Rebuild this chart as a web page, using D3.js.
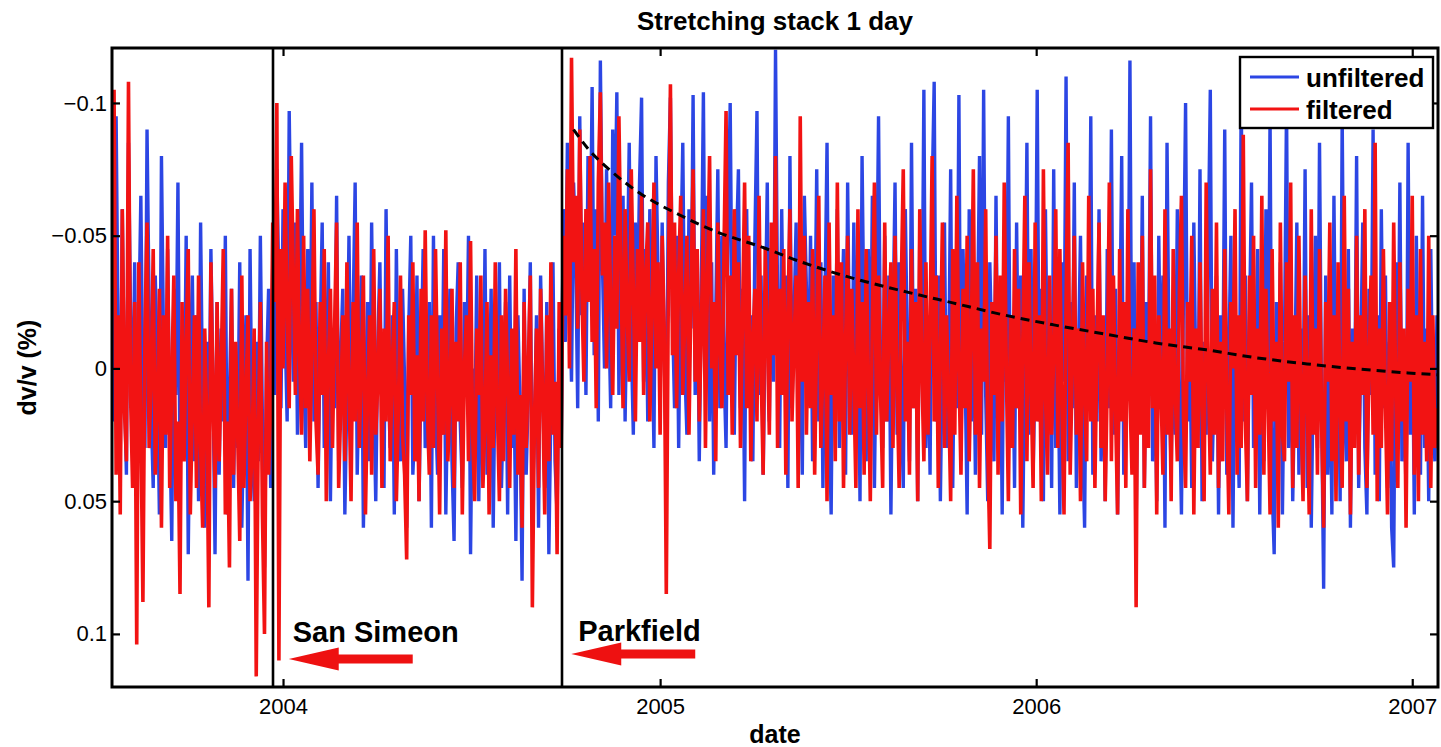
<!DOCTYPE html>
<html>
<head>
<meta charset="utf-8">
<script src="https://cdn.jsdelivr.net/npm/d3@7/dist/d3.min.js"></script>
<style>
    body { margin: 0; background: #fff; }
    svg { display: block; font-family: "Liberation Sans", Arial, Helvetica, sans-serif; }
</style>
</head>
<body>
<svg id="grafic" width="1441" height="747"></svg>
<script>
// ------------------DATA------------------
// dv/v in thousandths of a percent, one value every 2 days from 2003-07-19
var unfilteredBeforeSanSimeon = [
    -50, 20, -95, -10, 35, -60, 5, 40, -85, -20, 25, -40, 50, -15, -65, 10, 30, -90, -25, 15,
    45, -35, 0, 55, -80, -10, 30, -45, 20, 65, -30, 10, -70, 40, -5, 25, -50, 70, 0, -35,
    35, -20, 50, -55, 15, 60, -10, 30, -45, 5, 70, -25, 40, -15, 20, -50, 55, 10, -30, 45,
    -5, 30, -40, 60, 15, -20, 80, -45, 25, 50, -10, 35, -50, 20, 75, 0, -30, 45];
var filteredBeforeSanSimeon = [
    -30, -105, 40, -20, 55, -60, 15, 35, -108, 10, 45, -25, 104, -40, 20, 88, -15, -55, 30, 5,
    -45, 40, 15, -30, 60, -20, 25, -50, 45, 5, -35, 50, 20, 85, -25, 35, -10, -45, 55, 15,
    -20, 45, -35, 30, 60, -15, 20, 90, -40, 10, 45, -25, 35, 0, -45, 55, 20, 75, -30, 40,
    -10, 25, 65, -35, 45, 10, -20, 50, 30, -15, 116, 20, -25, 55, 100, -10, 40, 15];

var unfilteredBetweenQuakes = [
    -40, 10, -75, -30, 15, -60, -15, 20, -97, -35, 5, -55, 25, -20, -85, 0, 30, -45, 10, -70,
    20, -25, 45, -10, -55, 30, 5, -40, 50, -15, 15, -65, 35, -5, -30, 55, 10, -50, 25, -20,
    -70, 40, 0, -35, 60, 15, -25, 35, -55, 10, 50, -10, -40, 25, 45, -60, 5, 30, -20, 55,
    -45, 15, 35, -30, 5, 60, -15, -50, 40, 20, -35, 50, 0, -45, 30, 10, -25, 60, -50, 15,
    40, -20, 25, -45, 55, 5, -30, 35, 65, -15, -40, 20, 45, -25, 10, -50, 70, 0, 30, -35,
    50, -10, 25, -45, 40, 15, -30, 60, -5, 20, -40, 45, 10, -25, 55, -35, 30, 0, 65, -20,
    15, 80, -30, 40, 10, -40, 50, 25, -20, 60, -35, 5, 45, -25, 70, 15, -40, 35, 55, -15, 30];
var filteredBetweenQuakes = [
    -55, -25, -100, 110, -45, 0, -70, -20, 15, -80, -35, 10, -60, -5, 25, -50, 15, -30, 35, -10,
    -60, 20, 40, -25, 10, -45, 50, 0, -30, 30, -15, -55, 45, 15, -20, 35, -40, 5, 50, -25,
    20, -55, 30, 0, -35, 55, 10, -20, 40, -45, 25, 5, -30, 45, -15, 20, -50, 35, 0, -25,
    50, 15, -35, 25, 40, 72, -20, 10, -40, 35, -5, 50, -30, 20, -52, 15, 40, -20, 30, -45,
    5, 55, -15, 25, -52, 35, 10, -30, 45, -10, 20, -40, 55, 0, -20, 35, -48, 25, 50, -15,
    10, -35, 45, 20, -25, 55, -5, 30, -40, 15, 50, -20, 35, -30, 5, 45, -15, 25, -45, 40,
    10, 60, -25, 30, 0, -35, 90, 20, -15, 45, -30, 10, 55, -20, 35, -40, 25, 5, 70, -25, 30];

var unfilteredAfterParkfield = [
    -60, -10, -85, -30, 5, -70, -45, 15, -95, -20, -55, 10, -80, -35, -106, -5, -60, 20, -116, -40,
    0, -75, -25, 15, -90, -50, -104, 10, -40, -65, 20, -30, -85, -10, 25, -55, -20, -70, -102, 5,
    -45, 20, -60, -15, 30, -80, -35, 10, -55, -5, 35, -70, -102, -20, 15, -50, 30, -40, -85, 0,
    25, -60, -15, -103, 10, -45, 35, -30, -104, 5, -65, 20, -40, 40, -20, -75, 15, -50, 0, 30,
    -55, -100, -10, 25, -45, -75, 15, -30, 50, -60, 5, -20, 35, -50, -97, 10, -35, 40, -15, -70,
    20, -45, 5, -120, -25, 30, -60, 0, -35, 45, -80, 15, -20, -55, 25, -10, 40, -65, -30, 10,
    -50, 35, -5, -75, 20, -40, 45, -25, -85, 15, 55, -35, 5, -60, 30, -15, -45, 40, -70, 0,
    25, -55, 10, -30, 50, -80, -10, 35, -45, 15, -65, 45, -20, -95, 5, 30, -50, 20, -35, 55,
    -15, -70, 25, -40, 10, 45, -60, -5, 35, -85, 15, -30, 50, -50, 0, -105, 30, -20, 40, -65,
    -108, 20, -35, 50, -10, -55, 30, 5, -75, 45, -25, 15, -103, 35, -45, 0, 55, -60, 20, -30,
    40, -15, -80, 25, -105, 10, 50, -40, -5, 35, -65, 20, -25, 55, -50, 5, -95, 30, -20, 45,
    -55, 15, -35, 60, -10, -85, 25, -45, 40, 0, -105, 20, -30, 50, -60, 10, -20, 45, -75, 30,
    -15, 55, -40, 5, -110, 35, -25, 15, -70, 45, -5, -50, 25, 60, -35, 0, -95, 40, -20, 20,
    -60, 35, -10, 50, -45, 15, -90, 25, -30, 55, -5, -80, 40, -20, 10, -116, 30, -40, 60, -15,
    20, -65, 45, -25, 5, -95, 35, -10, 50, -50, 15, -35, 60, -85, 0, 40, -20, 25, -60, 10,
    55, -30, -100, 20, -15, 45, -55, 5, 30, -75, 50, -10, 25, -45, -105, 35, 0, -35, 55, -20,
    15, -90, 40, -5, -50, 60, -25, 10, 45, -108, 20, -35, 50, -15, -70, 30, 0, -45, 55, -20,
    35, -60, 10, -95, 45, 70, -25, 20, -40, 55, -10, -100, 30, -30, 50, 5, -55, 40, -15, 25,
    -75, 45, -20, 60, 0, -50, 30, -85, 15, 83, -35, 40, -10, 55, -65, 20, -25, 50, -95, 10,
    35, -45, 60, -15, 25, -80, 45, -5, -55, 30, 55, -30, 10, -90, 40, -20, 50, -60, 15, -35,
    45, -10, 60, 75, -40, 20, -70, 35, -5, 50, -85, 25, -25, 55, -50, 10, 40, -65, 30, -15,
    50, -45, 20, 35, -20];
var filteredAfterParkfield = [
    -50, -20, -75, 0, -117, -40, -65, -15, -90, -30, 5, -60, -25, -80, -10, -45, 15, -70, -104, -35,
    -55, 0, -70, -25, 10, -50, -15, -95, -40, 15, -60, -20, 5, -75, -30, 20, -45, -10, -65, 10,
    -35, -55, 20, -20, -70, 0, -40, 25, -50, -15, 85, -30, -107, -5, -55, 15, -35, -65, 10, -20,
    -50, 25, -30, -75, 5, -45, 20, -15, -60, 30, -35, -80, 0, -25, 35, -55, -10, 15, -45, -97,
    10, -35, 25, -60, -5, -40, 30, -20, -70, 15, -50, 35, -10, -30, 20, -65, 0, 40, -45, -15,
    25, -55, -5, -80, 30, -30, 10, -45, 40, -20, -60, 20, -10, -35, 45, -95, 5, -50, 25, -25,
    15, -45, 40, -15, -65, 30, 0, -35, 50, -55, 10, -20, 35, -70, 20, -40, 45, -10, -50, 25,
    -30, 5, 45, -60, 15, -25, 40, -45, 0, 50, -20, -70, 25, -35, 10, 45, -55, 20, -15, -40,
    30, -50, 5, 45, -30, -75, 20, -10, 40, -45, 15, -25, 50, -60, 0, 35, -40, 25, -15, -80,
    20, -35, 45, -5, -55, 30, -20, 10, 50, -45, 25, -65, 0, 40, -30, 15, -50, 35, -10, -75,
    25, -40, 45, -15, 5, -60, 30, 68, -25, 10, -50, 40, -35, 20, -70, 0, 50, -20, 30, -45,
    15, -30, 55, -10, -65, 35, -40, 5, 45, -55, 20, -20, 50, -75, 10, 40, -35, 25, -5, -60,
    30, -45, 15, 55, -25, -85, 40, 0, -50, 25, -15, 50, -40, 10, 35, -65, 20, -30, 45, -10,
    -55, 30, -20, 50, 5, -70, 35, -35, 15, 55, -45, 20, -25, 45, -60, 10, 40, -15, 90, -40,
    25, -50, 45, -10, 30, -75, 15, -35, 55, -20, 5, 40, -60, 25, -15, 50, -45, 10, 35, -30,
    -65, 20, 45, -25, 5, -50, 55, -15, 30, -40, 15, 50, -70, 0, 40, -30, 25, -55, 45, -10,
    35, -45, 15, 55, -25, 0, -60, 40, -20, 30, -88, 20, 50, -35, 10, -50, 45, -15, 25, -65,
    40, -30, 10, 55, -45, 20, -10, 60, -55, 25, 35, -40, 5, -70, 45, -20, 30, -50, 15, 50,
    -35, 10, 55, -60, 25, -15, 40, -45, 20, 60, -25, 5, -55, 35, -20, 50, -40, 15, 45, -65,
    20, -30, 55, -10, 30, -50, 40, -20, 10, -60, 45, 0, -35, 25, -85, 50, -15, 30, -45, 15,
    55, -25, 35, -55, 10, 45, -40, 20, -15, 60, -30, 5, -65, 40, -20, 50, -45, 25, -10, 35,
    -50, 45, -20, 30, 15];

// relaxation fit after Parkfield (dv/v in %)
var fitDates = ["2004-10-09", "2004-10-24", "2004-11-13", "2004-12-12", "2005-01-20", "2005-02-28", "2005-04-09",
    "2005-05-18", "2005-07-06", "2005-08-24", "2005-10-12", "2005-11-30", "2006-01-18", "2006-03-08", "2006-04-27",
    "2006-06-15", "2006-08-03", "2006-09-21", "2006-11-09", "2006-12-28", "2007-01-26"];
var fitValues = [-0.090, -0.0823, -0.0748, -0.0661, -0.0578, -0.0510, -0.0458, -0.0401, -0.0341, -0.0292, -0.0247,
    -0.0202, -0.0164, -0.0130, -0.0096, -0.0070, -0.0040, -0.0017, 0.0002, 0.0017, 0.0024];

var earthquakeNames = ["San Simeon", "Parkfield"];
var earthquakeDates = ["2003-12-22", "2004-09-28"];

var seriesNames = ["unfiltered", "filtered"];
var yTickValues = [-0.1, -0.05, 0, 0.05, 0.1];

// ------------------VARIABLES------------------
var parseDate = d3.timeParse("%Y-%m-%d");
var startDate = parseDate("2003-07-19");
var endDate = parseDate("2007-01-26");
var stepDays = 2;

var blau = "#2c46e4";
var vermell = "#f21313";

var marge = { left: 112, right: 1438, top: 48, bottom: 687 };
var svg = d3.select("#grafic");

var x = d3.scaleTime().domain([startDate, endDate]).range([marge.left, marge.right]);
// y axis is reversed: negative dv/v at the top
var y = d3.scaleLinear().domain([-0.1207, 0.12]).range([marge.top, marge.bottom]);

// ------------------FUNCTIONS------------------
// joins the three periods into one series with its dates
function ferSerie(trossos) {
    var valors = [].concat(...trossos);
    return valors.map(function (v, i) {
        return { date: d3.timeDay.offset(startDate, i * stepDays), value: v / 1000 };
    });
}

function dibuixarSerie(dades, color, gruix) {
    var linia = d3.line().x(d => x(d.date)).y(d => y(d.value));
    svg.append("path")
        .datum(dades)
        .attr("clip-path", "url(#zona)")
        .attr("d", linia)
        .attr("fill", "none")
        .attr("stroke", color)
        .attr("stroke-width", gruix)
        .attr("stroke-linejoin", "bevel");
}

function dibuixarAjust() {
    var dades = fitDates.map((d, i) => ({ date: parseDate(d), value: fitValues[i] }));
    svg.append("path")
        .datum(dades)
        .attr("clip-path", "url(#zona)")
        .attr("d", d3.line().x(d => x(d.date)).y(d => y(d.value)).curve(d3.curveMonotoneX))
        .attr("fill", "none")
        .attr("stroke", "#000")
        .attr("stroke-width", 3)
        .attr("stroke-dasharray", "9,6");
}

function dibuixarTerratremols() {
    earthquakeDates.forEach(function (d) {
        var xp = Math.round(x(parseDate(d)));
        svg.append("line")
            .attr("x1", xp).attr("x2", xp)
            .attr("y1", marge.top).attr("y2", marge.bottom)
            .attr("stroke", "#000")
            .attr("stroke-width", 2.6);
    });
}

// red arrow pointing left, tip at (xp, yp)
function dibuixarFletxa(xp, yp) {
    var cap = 50, alt = 11.5, llarg = 124, gruix = 4.5;
    var punts = [[xp, yp], [xp + cap, yp - alt], [xp + cap, yp - gruix], [xp + llarg, yp - gruix],
        [xp + llarg, yp + gruix], [xp + cap, yp + gruix], [xp + cap, yp + alt]];
    svg.append("polygon")
        .attr("points", punts.map(p => p.join(",")).join(" "))
        .attr("fill", "#ee1111");
}

function dibuixarAnotacions() {
    var textDx = [20, 16], fletxaDx = [16, 9], textY = [642, 641], fletxaY = [659, 654];
    earthquakeNames.forEach(function (nom, i) {
        var xp = x(parseDate(earthquakeDates[i]));
        svg.append("text")
            .attr("x", xp + textDx[i])
            .attr("y", textY[i])
            .attr("font-size", 29)
            .attr("font-weight", "bold")
            .text(nom);
        dibuixarFletxa(xp + fletxaDx[i], fletxaY[i]);
    });
}

function dibuixarEixos() {
    var eixX = d3.axisBottom(x).ticks(d3.timeYear.every(1)).tickFormat(d3.timeFormat("%Y"))
        .tickSizeInner(-8).tickSizeOuter(0).tickPadding(11);
    var eixXdalt = d3.axisTop(x).ticks(d3.timeYear.every(1)).tickFormat("")
        .tickSizeInner(-8).tickSizeOuter(0);
    var eixY = d3.axisLeft(y).tickValues(yTickValues).tickFormat(d3.format(""))
        .tickSizeInner(-8).tickSizeOuter(0).tickPadding(5);
    var eixYdreta = d3.axisRight(y).tickValues(yTickValues).tickFormat("")
        .tickSizeInner(-8).tickSizeOuter(0);

    var grups = [
        svg.append("g").attr("transform", `translate(0,${marge.bottom})`).call(eixX),
        svg.append("g").attr("transform", `translate(0,${marge.top})`).call(eixXdalt),
        svg.append("g").attr("transform", `translate(${marge.left},0)`).call(eixY),
        svg.append("g").attr("transform", `translate(${marge.right},0)`).call(eixYdreta)
    ];
    grups.forEach(function (g) {
        g.select(".domain").remove();
        g.selectAll(".tick line").attr("stroke", "#000").attr("stroke-width", 2.2);
        g.selectAll(".tick text").attr("font-size", 22).attr("fill", "#000")
            .attr("font-family", "'Liberation Sans', Arial, sans-serif");
    });

    // marc del grafic
    svg.append("rect")
        .attr("x", marge.left).attr("y", marge.top)
        .attr("width", marge.right - marge.left)
        .attr("height", marge.bottom - marge.top)
        .attr("fill", "none")
        .attr("stroke", "#000")
        .attr("stroke-width", 3);
}

function dibuixarLlegenda() {
    var g = svg.append("g");
    g.append("rect")
        .attr("x", 1240).attr("y", 57).attr("width", 193).attr("height", 71)
        .attr("fill", "#fff").attr("stroke", "#000").attr("stroke-width", 2.4);
    [blau, vermell].forEach(function (color, i) {
        var yl = 77 + i * 32;
        g.append("line")
            .attr("x1", 1250).attr("x2", 1299).attr("y1", yl).attr("y2", yl)
            .attr("stroke", color).attr("stroke-width", 3);
        g.append("text")
            .attr("x", 1306).attr("y", yl + 10)
            .attr("font-size", 26).attr("font-weight", "bold")
            .text(seriesNames[i]);
    });
}

function dibuixarTitols() {
    svg.append("text")
        .attr("x", (marge.left + marge.right) / 2).attr("y", 30)
        .attr("text-anchor", "middle").attr("font-size", 26).attr("font-weight", "bold")
        .text("Stretching stack 1 day");
    svg.append("text")
        .attr("x", (marge.left + marge.right) / 2).attr("y", 743)
        .attr("text-anchor", "middle").attr("font-size", 25).attr("font-weight", "bold")
        .text("date");
    svg.append("text")
        .attr("transform", `translate(36,${(marge.top + marge.bottom) / 2}) rotate(-90)`)
        .attr("text-anchor", "middle").attr("font-size", 25).attr("font-weight", "bold")
        .text("dv/v (%)");
}

// ------------------MAIN------------------
svg.append("defs").append("clipPath").attr("id", "zona")
    .append("rect")
    .attr("x", marge.left).attr("y", marge.top)
    .attr("width", marge.right - marge.left)
    .attr("height", marge.bottom - marge.top);

dibuixarSerie(ferSerie([unfilteredBeforeSanSimeon, unfilteredBetweenQuakes, unfilteredAfterParkfield]), blau, 3.4);
dibuixarSerie(ferSerie([filteredBeforeSanSimeon, filteredBetweenQuakes, filteredAfterParkfield]), vermell, 3.6);
dibuixarAjust();
dibuixarTerratremols();
dibuixarEixos();
dibuixarLlegenda();
dibuixarAnotacions();
dibuixarTitols();
</script>
</body>
</html>
